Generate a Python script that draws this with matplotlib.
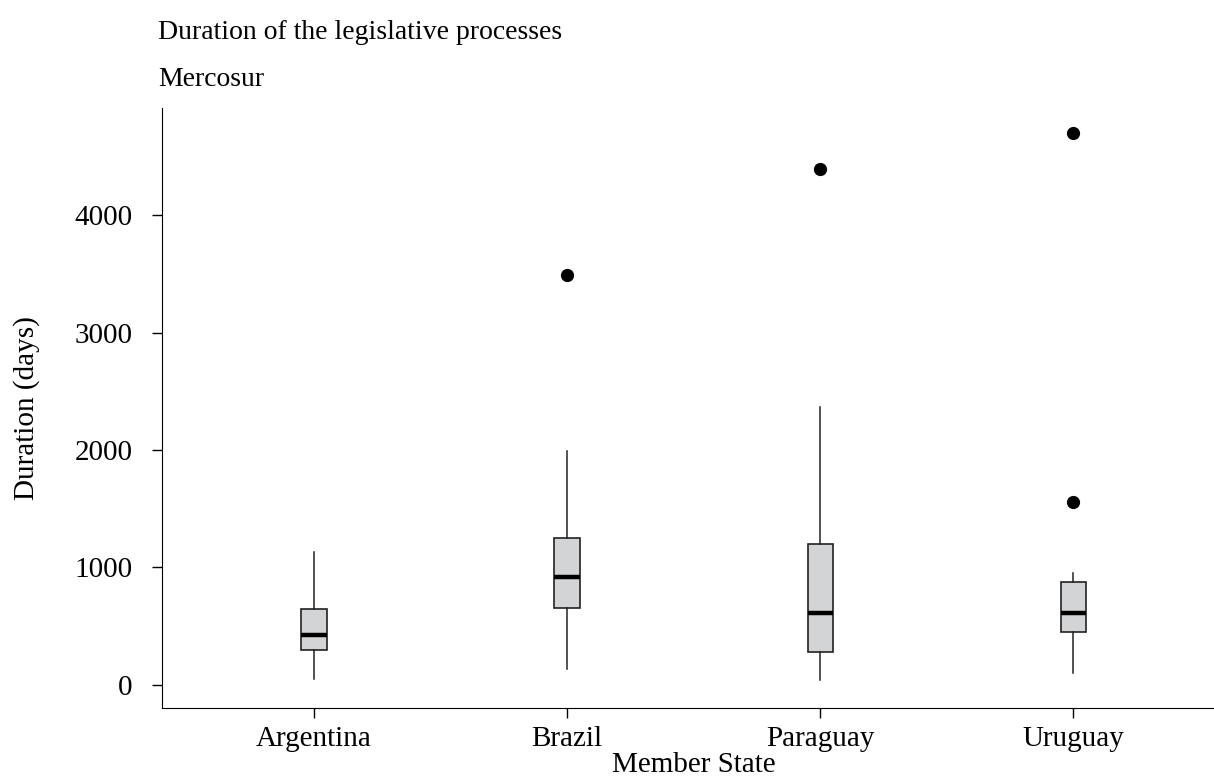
import matplotlib.pyplot as plt

plt.rcParams['font.family'] = ['Liberation Serif', 'DejaVu Serif']

states = ['Argentina', 'Brazil', 'Paraguay', 'Uruguay']
whisker_low = [50, 135, 40, 100]
q1 = [298, 655, 281, 451]
medians = [425, 919, 613, 613]
q3 = [647, 1251, 1200, 877]
whisker_high = [1132, 1990, 2366, 953]
outliers = [[], [3489], [4391], [1557, 4698]]

stats = []
for i, name in enumerate(states):
    stats.append({
        'label': name,
        'whislo': whisker_low[i],
        'q1': q1[i],
        'med': medians[i],
        'q3': q3[i],
        'whishi': whisker_high[i],
        'fliers': outliers[i],
    })

fig = plt.figure(figsize=(12.14, 7.81), dpi=100)
ax = fig.add_axes([0.1334, 0.0935, 0.876, 0.768])

ax.bxp(stats, widths=0.1, patch_artist=True, showcaps=False,
       boxprops=dict(facecolor='#d3d4d6', edgecolor='#222222', linewidth=1.2),
       medianprops=dict(color='black', linewidth=3.2),
       whiskerprops=dict(color='#222222', linewidth=1.1),
       flierprops=dict(marker='o', markerfacecolor='black', markeredgecolor='black', markersize=8.5))

ax.set_xlim(0.4, 4.6)
ax.set_ylim(-196, 4910)
ax.set_yticks([0, 1000, 2000, 3000, 4000])

ax.spines['top'].set_visible(False)
ax.spines['right'].set_visible(False)
ax.tick_params(axis='both', labelsize=21, length=7, width=1)
ax.tick_params(axis='y', pad=14)
ax.tick_params(axis='x', pad=6)

ax.set_xlabel('Member State', fontsize=21, labelpad=0)
ax.set_ylabel('Duration (days)', fontsize=21, labelpad=25)

fig.text(158 / 1214, 1 - 39 / 781, 'Duration of the legislative processes', fontsize=20, ha='left', va='baseline')
fig.text(158 / 1214, 1 - 86 / 781, 'Mercosur', fontsize=20, ha='left', va='baseline')

fig.savefig('out.png', dpi=100)
plt.close()
